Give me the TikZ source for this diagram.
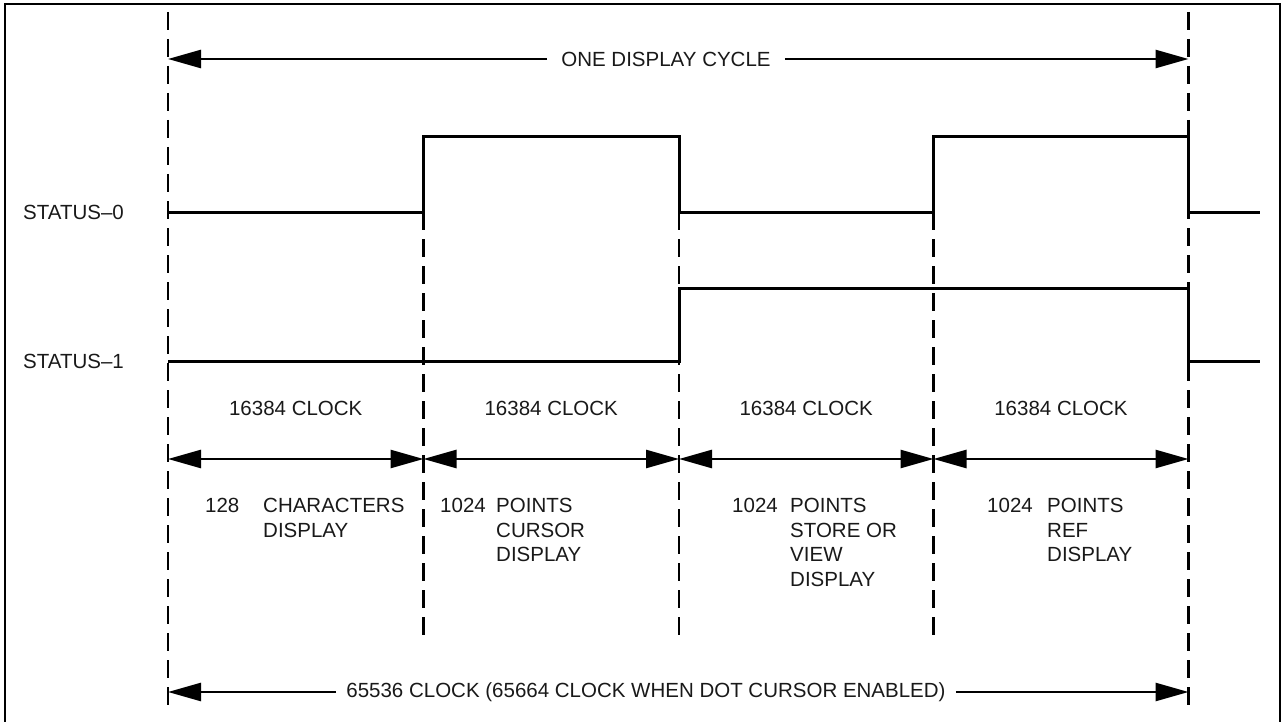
\documentclass[tikz,border=0pt]{standalone}
\usepackage{fontspec}
\setmainfont{Liberation Sans}
\usetikzlibrary{arrows.meta}
\begin{document}
\begin{tikzpicture}[x=1pt,y=-1pt,
  every node/.style={font=\fontsize{20.5}{24.5}\selectfont, inner sep=0pt, text=black!90},
  wave/.style={line width=3pt, line join=miter},
  dashline/.style={line width=2.8pt, dash pattern=on 18pt off 9pt},
  tip/.tip={Triangle[length=33pt,width=18pt]},
  dimline/.style={line width=2.6pt, tip-tip},
  halfdim/.style={line width=2.6pt, -tip},
  lbl/.style={inner xsep=14pt, inner ysep=2pt},
  blk/.style={anchor=north west, align=left}
]
\useasboundingbox (0,0) rectangle (1281,722);
\draw[line width=1.8pt] (5,722) -- (5,4) -- (1280,4) -- (1280,722);

% dashed boundary lines
\foreach \i/\x/\top/\bot in {0/168/12/709,1/423.5/212/636,2/679/212/636,3/933.5/212/636,4/1188.5/12/709} {
  \coordinate (t\i) at (\x,\top);
  \coordinate (b\i) at (\x,\bot);
  \coordinate (a\i) at (\x,59);
  \coordinate (m\i) at (\x,459);
  \coordinate (c\i) at (\x,692);
  \draw[dashline] (t\i) -- (b\i);
}

% top dimension
\node[lbl] (cyc) at (666,59) {ONE DISPLAY CYCLE};
\draw[halfdim] (cyc.west) -- (a0);
\draw[halfdim] (cyc.east) -- (a4);

% waveforms
\node[anchor=west] (s0) at (23,212) {STATUS--0};
\node[anchor=west] (s1) at (23,361) {STATUS--1};
\draw[wave] (a0 |- s0) -- (423.5,212) -- (423.5,137) -- (679,137) -- (679,212)
  -- (933.5,212) -- (933.5,137) -- (1188.5,137) -- (1188.5,212) -- (1260,212);
\draw[wave] (a0 |- s1) -- (679,361) -- (679,288) -- (1188.5,288) -- (1188.5,361) -- (1260,361);

% clock labels
\node (k1) at (295.75,408) {16384 CLOCK};
\node (k2) at (551.25,408) {16384 CLOCK};
\node (k3) at (806.25,408) {16384 CLOCK};
\node (k4) at (1061,408) {16384 CLOCK};

% interval arrows
\draw[dimline] (m0) -- (m1);
\draw[dimline] (m1) -- (m2);
\draw[dimline] (m2) -- (m3);
\draw[dimline] (m3) -- (m4);

% descriptions
\node[blk] (n1) at (205,498) {128};
\node[blk] (d1) at (263,498) {CHARACTERS\\DISPLAY};
\node[blk] (n2) at (440,498) {1024};
\node[blk] (d2) at (496,498) {POINTS\\CURSOR\\DISPLAY};
\node[blk] (n3) at (732,498) {1024};
\node[blk] (d3) at (790,498) {POINTS\\STORE OR\\VIEW\\DISPLAY};
\node[blk] (n4) at (987,498) {1024};
\node[blk] (d4) at (1047,498) {POINTS\\REF\\DISPLAY};

% bottom dimension
\node[inner xsep=10pt, inner ysep=2pt] (tot) at (646,692) {65536 CLOCK (65664 CLOCK WHEN DOT CURSOR ENABLED)};
\draw[halfdim] (tot.west) -- (c0);
\draw[halfdim] (tot.east) -- (c4);
\end{tikzpicture}
\end{document}
